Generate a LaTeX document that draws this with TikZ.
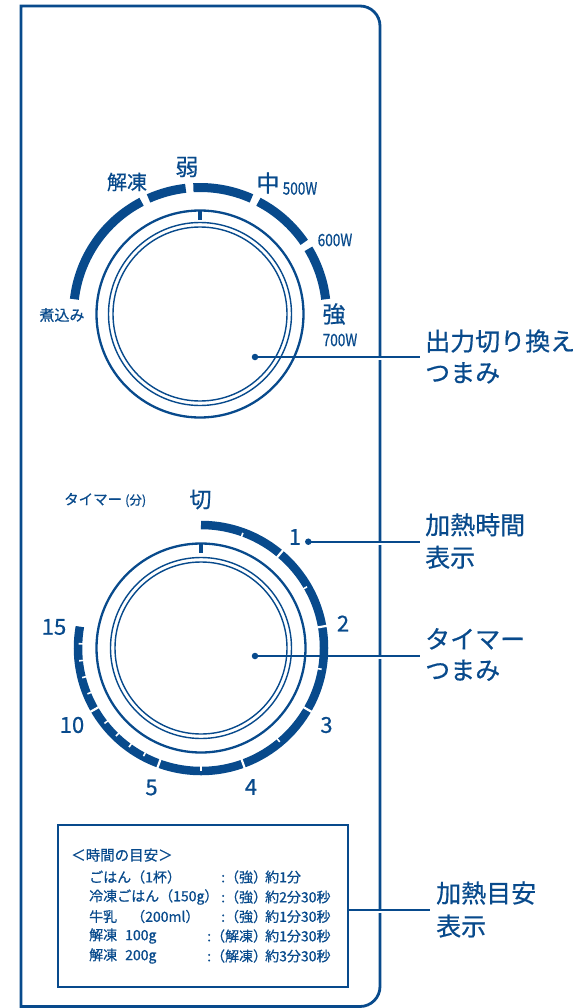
\documentclass[tikz,border=0pt]{standalone}
\usepackage{graphicx}
\usepackage{fontspec}
\setmainfont[FakeBold=0.6]{Noto Sans CJK JP}
\definecolor{pb}{RGB}{8,74,140}
\newcommand{\fs}[1]{\fontsize{#1}{#1}\selectfont}
\newcommand{\narrowtxt}[1]{\scalebox{0.8}[1]{#1}}
\begin{document}
\begin{tikzpicture}[x=1pt,y=-1pt,
  panel/.style={draw=pb,line width=2.8pt},
  thinring/.style={draw=pb,line width=2.3pt},
  pairring/.style={draw=pb,line width=1.4pt},
  bandtop/.style={draw=pb,line width=9pt},
  bandbot/.style={draw=pb,line width=8.5pt},
  cut/.style={draw=white,line width=2.2pt},
  notch/.style={draw=white,line width=1.6pt},
  tickmark/.style={draw=pb,line width=3.2pt},
  leader/.style={draw=pb,line width=1.8pt},
  edgegap/.style={draw=white,line width=3.4pt},
  dotst/.style={circle,fill=pb,inner sep=0pt,minimum size=6.5pt},
  lbl/.style={text=pb,inner sep=0pt},
  guidebox/.style={draw=pb,line width=2.2pt,minimum width=289.7pt,minimum height=161.7pt,inner sep=0pt},
  rowtxt/.style={text=pb,inner sep=0pt,anchor=west,font=\fs{14}},
  callout/.style={text=pb,inner sep=0pt,anchor=west,align=left}
]
\useasboundingbox (0,0) rectangle (581,1008);
\fill[white] (0,0) rectangle (581,1008);

% panel outline
\draw[panel] (21,6) -- (360,6) arc[start angle=-90,end angle=0,radius=20] -- (380,986.5)
  arc[start angle=0,end angle=90,radius=20] -- (21,1006.5) -- cycle;

% ---------- power dial ----------
\coordinate (c1) at (200,314);
\draw[thinring] (c1) circle[radius=103.5];
\draw[pairring] (c1) circle[radius=91.5];
\draw[pairring] (c1) circle[radius=87];
\draw[tickmark] ([shift={(-90:103.5)}]c1) -- ([shift={(-90:94)}]c1);
\foreach \a/\b in {6.7/31,34.5/62.5,66/93,96.5/114,117.5/173.3}
  \draw[bandtop] ([shift={(-\a:126.5)}]c1) arc[start angle=-\a,end angle=-\b,radius=126.5];

\node[lbl,font=\fs{15}] (nikomi) at (62,315) {煮込み};
\node[lbl,font=\fs{20}] (kaitou) at (127,182) {解凍};
\node[lbl,font=\fs{23}] (jaku) at (187,167) {弱};
\node[lbl,font=\fs{23}] (chu) at (268,183) {中};
\node[lbl,font=\fs{17}] (w500) at (300,188.5) {\narrowtxt{500W}};
\node[lbl,font=\fs{17}] (w600) at (335,240) {\narrowtxt{600W}};
\node[lbl,font=\fs{23}] (kyo) at (334,314) {強};
\node[lbl,font=\fs{17}] (w700) at (340,340) {\narrowtxt{700W}};

% ---------- timer dial ----------
\coordinate (c2) at (201,648);
\draw[thinring] (c2) circle[radius=104.5];
\draw[pairring] (c2) circle[radius=90.5];
\draw[pairring] (c2) circle[radius=86];
\draw[tickmark] ([shift={(-90:104.5)}]c2) -- ([shift={(-90:95)}]c2);
\draw[bandbot] ([shift={(-90:123)}]c2) arc[start angle=-90,end angle=190,radius=123];
\foreach \g in {-50,-10,30,70,110,150}
  \draw[cut] ([shift={(\g:117)}]c2) -- ([shift={(\g:129)}]c2);
\foreach \g in {-70,-30,10,50,90,118,126,134,142,158,166,174,182}
  \draw[notch] ([shift={(\g:117.5)}]c2) -- ([shift={(\g:122.5)}]c2);

\node[lbl,anchor=west] (timerhd) at (64,500) {\fs{14.5}タイマー\hspace{3pt}\fs{12.5}(分)};
\node[lbl,font=\fs{22}] (kiri) at (200.5,499.5) {切};
\node[lbl,font=\fs{22}] (m1) at (295,537) {1};
\node[lbl,font=\fs{22}] (m2) at (343,623.5) {2};
\node[lbl,font=\fs{22}] (m3) at (326.5,725) {3};
\node[lbl,font=\fs{22}] (m4) at (251,787) {4};
\node[lbl,font=\fs{22}] (m5) at (151.5,787.5) {5};
\node[lbl,font=\fs{22}] (m10) at (72,725) {10};
\node[lbl,font=\fs{22}] (m15) at (54,627) {15};

% ---------- guide box ----------
\node[guidebox] (guide) at (202.85,905.85) {};
\node[rowtxt,font=\fs{14.5}] (ghead) at (71,855) {＜時間の目安＞};
\node[rowtxt] (r1a) at (89,877) {ごはん（1杯）};
\node[rowtxt] (r1b) at (221,877) {:（強）};
\node[rowtxt] (r1c) at (265,877) {約1分};
\node[rowtxt] (r2a) at (89,897) {冷凍ごはん（150g）};
\node[rowtxt] (r2b) at (221,897) {:（強）};
\node[rowtxt] (r2c) at (265,897) {約2分30秒};
\node[rowtxt] (r3a) at (89,916.5) {牛乳　（200ml）};
\node[rowtxt] (r3b) at (221,916.5) {:（強）};
\node[rowtxt] (r3c) at (265,916.5) {約1分30秒};
\node[rowtxt] (r4a) at (89,936) {解凍\hspace{8pt}100g};
\node[rowtxt] (r4b) at (207,936) {:（解凍）};
\node[rowtxt] (r4c) at (265,936) {約1分30秒};
\node[rowtxt] (r5a) at (89,956) {解凍\hspace{8pt}200g};
\node[rowtxt] (r5b) at (207,956) {:（解凍）};
\node[rowtxt] (r5c) at (265,956) {約3分30秒};

% ---------- callouts ----------
\node[dotst] (d1) at (255,357) {};
\node[dotst] (d2) at (308.3,541.7) {};
\node[dotst] (d3) at (255,656) {};
\coordinate (e1) at (420,357);
\coordinate (e2) at (420,541.7);
\coordinate (e3) at (420,656);
\coordinate (e4) at (430,910);
\foreach \yy in {357,541.7,656,910}
  \draw[edgegap] (380,\yy+1.4) -- (380,\yy+3.4);
\draw[leader] (d1.center) -- (e1);
\draw[leader] (d2.center) -- (e2);
\draw[leader] (d3.center) -- (e3);
\draw[leader] (guide.east |- e4) -- (e4);

\node[callout,font=\fontsize{25}{31.5}\selectfont] (t1) at (425,356.5) {出力切り換え\\つまみ};
\node[callout,font=\fontsize{25}{32.5}\selectfont] (t2) at (425,541) {加熱時間\\表示};
\node[callout,font=\fontsize{25}{31}\selectfont] (t3) at (425,654.5) {タイマー\\つまみ};
\node[callout,font=\fontsize{25}{33}\selectfont] (t4) at (436,909.5) {加熱目安\\表示};
\end{tikzpicture}
\end{document}
